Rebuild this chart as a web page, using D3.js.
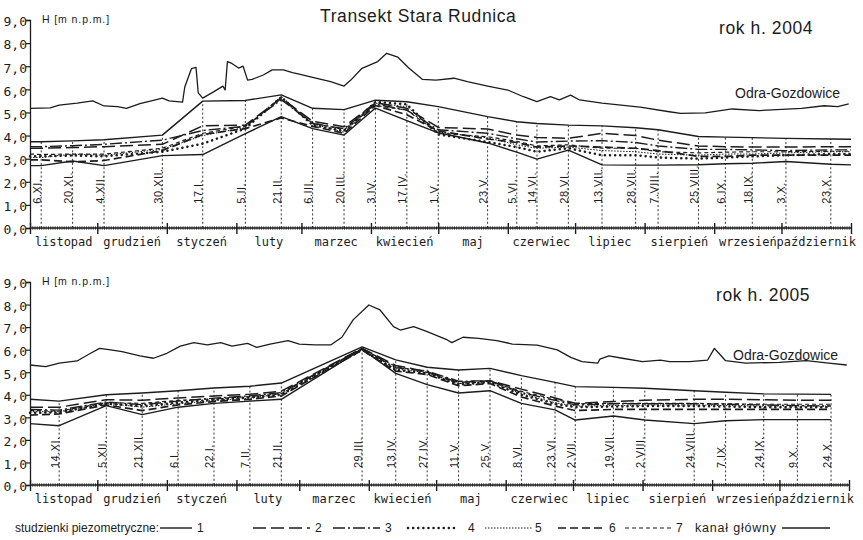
<!DOCTYPE html>
<html>
<head>
<meta charset="utf-8">
<script src="https://cdn.jsdelivr.net/npm/d3@7"></script>
<style>
  body { margin: 0; background: #fff; }
  svg { display: block; }
</style>
</head>
<body>
<svg id="chart" width="863" height="540"></svg>
<script>
// ================= DANE =================
// --- rok hydrologiczny 2004 ---
const seriesDates2004 = ["2003-11-01","2003-11-06","2003-11-20","2003-12-04","2003-12-30","2004-01-17","2004-02-05","2004-02-21","2004-03-06","2004-03-20","2004-04-03","2004-04-17","2004-05-01","2004-05-23","2004-06-05","2004-06-14","2004-06-28","2004-07-13","2004-07-28","2004-08-07","2004-08-25","2004-09-06","2004-09-18","2004-10-03","2004-10-23","2004-11-01"];
const measureDates2004 = ["2003-11-06","2003-11-20","2003-12-04","2003-12-30","2004-01-17","2004-02-05","2004-02-21","2004-03-06","2004-03-20","2004-04-03","2004-04-17","2004-05-01","2004-05-23","2004-06-05","2004-06-14","2004-06-28","2004-07-13","2004-07-28","2004-08-07","2004-08-25","2004-09-06","2004-09-18","2004-10-03","2004-10-23"];
const measureLabels2004 = ["6.XI.","20.XI.","4.XII.","30.XII.","17.I.","5.II.","21.II.","6.III.","20.III.","3.IV.","17.IV.","1.V.","23.V.","5.VI.","14.VI.","28.VI.","13.VII.","28.VII.","7.VIII.","25.VIII.","6.IX.","18.IX.","3.X.","23.X."];
const kanal2004 = [3.73,3.73,3.77,3.82,4.02,5.49,5.52,5.76,5.18,5.12,5.53,5.46,5.25,4.82,4.60,4.52,4.45,4.42,4.34,4.25,3.96,3.93,3.91,3.88,3.85,3.84];
const p1_2004 = [2.70,2.70,2.90,2.70,3.13,3.18,4.08,4.82,4.30,4.02,5.19,4.65,4.12,3.68,3.28,2.98,3.37,2.73,2.72,2.72,2.74,2.78,2.80,2.88,2.76,2.73];
const p2_2004 = [3.45,3.45,3.48,3.52,3.62,4.42,4.45,5.62,4.62,4.38,5.42,5.18,4.35,4.28,4.02,3.92,3.88,4.10,4.00,3.80,3.55,3.52,3.50,3.50,3.52,3.52];
const p3_2004 = [3.52,3.52,3.56,3.62,3.80,4.22,4.40,5.55,4.52,4.30,5.36,5.10,4.25,4.10,3.86,3.72,3.76,3.78,3.70,3.55,3.40,3.40,3.38,3.35,3.38,3.38];
const p4_2004 = [3.10,3.10,3.14,3.10,3.30,3.65,4.30,5.66,4.45,4.20,5.45,5.35,4.05,3.72,3.50,3.30,3.45,3.15,3.15,3.05,3.00,3.05,3.10,3.15,3.20,3.20];
const p5_2004 = [3.05,3.05,3.20,3.15,3.40,4.00,4.35,5.70,4.50,4.15,5.40,5.25,4.15,3.90,3.60,3.45,3.50,3.35,3.30,3.20,3.15,3.20,3.20,3.25,3.30,3.30];
const p6_2004 = [2.95,2.95,2.86,2.92,3.35,4.05,4.30,4.76,4.40,4.10,5.30,4.90,4.20,3.85,3.70,3.50,3.55,3.50,3.45,3.35,3.10,3.10,3.15,3.15,3.15,3.15];
const p7_2004 = [3.20,3.18,3.20,3.20,3.45,4.10,4.40,5.60,4.55,4.25,5.30,5.10,4.10,3.95,3.75,3.55,3.60,3.45,3.45,3.30,3.25,3.28,3.30,3.30,3.32,3.32];
const odraDates2004 = ["2003-11-01","2003-11-10","2003-11-14","2003-11-22","2003-11-29","2003-12-04","2003-12-10","2003-12-14","2003-12-20","2003-12-26","2003-12-30","2004-01-02","2004-01-08","2004-01-09","2004-01-12","2004-01-14","2004-01-15","2004-01-17","2004-01-22","2004-01-26","2004-01-27","2004-01-28","2004-01-30","2004-02-02","2004-02-04","2004-02-06","2004-02-08","2004-02-13","2004-02-17","2004-02-22","2004-02-26","2004-02-29","2004-03-06","2004-03-14","2004-03-20","2004-03-23","2004-03-28","2004-04-04","2004-04-08","2004-04-13","2004-04-18","2004-04-24","2004-04-30","2004-05-08","2004-05-14","2004-05-23","2004-06-01","2004-06-08","2004-06-14","2004-06-20","2004-06-24","2004-06-29","2004-07-03","2004-07-13","2004-07-30","2004-08-12","2004-08-17","2004-08-28","2004-09-09","2004-09-21","2004-10-10","2004-10-20","2004-10-26","2004-10-31"];
const odra2004 = [5.18,5.20,5.32,5.40,5.50,5.28,5.25,5.18,5.38,5.52,5.62,5.50,5.45,6.10,6.90,6.95,5.85,5.62,5.90,6.14,5.97,7.20,7.12,6.92,7.00,6.40,6.43,6.62,6.84,6.84,6.72,6.66,6.52,6.33,6.14,6.40,6.91,7.20,7.56,7.39,6.91,6.43,6.40,6.48,6.33,6.14,5.97,5.68,5.47,5.68,5.54,5.75,5.54,5.40,5.23,5.03,4.96,4.98,5.15,5.08,5.18,5.29,5.25,5.37];

// --- rok hydrologiczny 2005 ---
const seriesDates2005 = ["2004-11-01","2004-11-14","2004-12-05","2004-12-21","2005-01-06","2005-01-22","2005-02-07","2005-02-21","2005-03-29","2005-04-13","2005-04-27","2005-05-11","2005-05-25","2005-06-08","2005-06-23","2005-07-02","2005-07-19","2005-08-02","2005-08-24","2005-09-07","2005-09-24","2005-10-09","2005-10-24"];
const measureDates2005 = seriesDates2005.slice(1);
const measureLabels2005 = ["14.XI.","5.XII.","21.XII.","6.I.","22.I.","7.II.","21.II.","29.III.","13.IV.","27.IV.","11.V.","25.V.","8.VI.","23.VI.","2.VII.","19.VII.","2.VIII.","24.VIII.","7.IX.","24.IX.","9.X.","24.X."];
const kanal2005 = [3.80,3.72,4.00,4.08,4.18,4.30,4.38,4.52,6.12,5.55,5.22,5.10,5.17,4.85,4.55,4.36,4.33,4.29,4.18,4.11,4.04,4.03,4.02];
const p1_2005 = [2.72,2.63,3.52,3.12,3.45,3.62,3.72,3.80,6.02,4.95,4.45,4.08,4.18,3.62,3.33,2.88,3.06,2.88,2.72,2.85,2.90,2.90,2.90];
const p2_2005 = [3.45,3.45,3.78,3.76,3.86,3.95,4.02,4.16,6.06,5.30,5.02,4.55,4.62,4.25,3.86,3.62,3.70,3.76,3.80,3.80,3.78,3.76,3.76];
const p3_2005 = [3.35,3.32,3.68,3.56,3.72,3.85,3.95,4.10,6.05,5.20,5.05,4.60,4.62,4.10,3.75,3.55,3.60,3.60,3.60,3.58,3.55,3.52,3.50];
const p4_2005 = [3.20,3.22,3.60,3.50,3.65,3.78,3.88,4.00,6.00,5.10,4.95,4.45,4.55,4.00,3.60,3.45,3.48,3.50,3.50,3.48,3.45,3.45,3.45];
const p5_2005 = [3.25,3.25,3.62,3.45,3.60,3.75,3.85,4.05,6.02,5.15,4.98,4.50,4.58,4.05,3.65,3.50,3.52,3.55,3.55,3.52,3.50,3.50,3.50];
const p6_2005 = [3.10,3.15,3.55,3.30,3.55,3.70,3.80,3.95,5.98,5.05,4.90,4.40,4.50,3.90,3.50,3.30,3.35,3.35,3.35,3.35,3.35,3.35,3.35];
const p7_2005 = [3.30,3.28,3.65,3.62,3.75,3.82,3.92,4.05,6.05,5.25,5.00,4.50,4.60,4.15,3.80,3.60,3.62,3.62,3.62,3.60,3.58,3.58,3.58];
const odraDates2005 = ["2004-11-01","2004-11-08","2004-11-14","2004-11-22","2004-11-28","2004-12-02","2004-12-07","2004-12-12","2004-12-20","2004-12-26","2005-01-01","2005-01-07","2005-01-13","2005-01-19","2005-01-25","2005-01-30","2005-02-06","2005-02-10","2005-02-16","2005-02-24","2005-03-01","2005-03-08","2005-03-15","2005-03-20","2005-03-25","2005-04-01","2005-04-06","2005-04-12","2005-04-15","2005-04-21","2005-04-27","2005-05-06","2005-05-08","2005-05-13","2005-05-20","2005-05-28","2005-06-04","2005-06-15","2005-06-24","2005-06-30","2005-07-05","2005-07-12","2005-07-13","2005-07-17","2005-07-23","2005-08-01","2005-08-09","2005-08-13","2005-08-22","2005-08-30","2005-09-02","2005-09-04","2005-09-07","2005-09-16","2005-10-01","2005-10-13","2005-10-23","2005-10-31"];
const odra2005 = [5.32,5.25,5.40,5.50,5.84,6.06,5.99,5.91,5.72,5.62,5.84,6.16,6.31,6.21,6.31,6.16,6.28,6.10,6.25,6.40,6.25,6.21,6.21,6.55,7.32,7.98,7.76,7.02,6.87,7.02,6.80,6.43,6.31,6.55,6.50,6.40,6.25,6.20,5.99,5.66,5.47,5.40,5.58,5.72,5.62,5.47,5.54,5.47,5.47,5.54,6.06,5.84,5.51,5.40,5.44,5.51,5.40,5.32];

// --- opisy ---
const monthNames = ["listopad","grudzień","styczeń","luty","marzec","kwiecień","maj","czerwiec","lipiec","sierpień","wrzesień","październik"];
const yTicks = [0,1,2,3,4,5,6,7,8,9];
const legendKeys = ["1","2","3","4","5","6","7"];

// ================= STYLE LINII =================
const ink = "#1c1c1c";
const lineStyles = {
  kanal: { w: 1.4, dash: null,        cap: "butt" },
  p1:    { w: 1.4, dash: null,        cap: "butt" },
  p2:    { w: 1.5, dash: "13,5",      cap: "butt" },
  p3:    { w: 1.4, dash: "12,3,2,3",  cap: "butt" },
  p4:    { w: 2.5, dash: "0.1,5",     cap: "round" },
  p5:    { w: 1.0, dash: "1.5,1.5",   cap: "butt" },
  p6:    { w: 1.7, dash: "8,4",       cap: "butt" },
  p7:    { w: 1.2, dash: "4,3",       cap: "butt" }
};

const parse = d3.utcParse("%Y-%m-%d");
const svg = d3.select("#chart");
const fmtY = d => d3.format(".1f")(d).replace(".", ",");

function applyStyle(sel, st) {
  sel.attr("fill", "none").attr("stroke", ink)
     .attr("stroke-width", st.w)
     .attr("stroke-linecap", st.cap)
     .attr("stroke-linejoin", "round");
  if (st.dash) sel.attr("stroke-dasharray", st.dash);
  return sel;
}

function drawPanel(cfg) {
  const g = svg.append("g");
  const x = d3.scaleUtc().domain([parse(cfg.from), parse(cfg.to)]).range([30, cfg.xRight]);
  const y = d3.scaleLinear().domain([0, 9]).range([cfg.yZero, cfg.yNine]);
  const y0 = y(0);
  const sDates = cfg.seriesDates.map(parse);

  // pionowe linie kropkowane w terminach pomiarów
  cfg.measureDates.forEach((ds, i) => {
    const d = parse(ds);
    const k = cfg.seriesDates.indexOf(ds);
    const topVal = cfg.series.kanal[k];
    g.append("line")
      .attr("x1", x(d)).attr("x2", x(d))
      .attr("y1", y0).attr("y2", y(topVal))
      .attr("stroke", "#333").attr("stroke-width", 1)
      .attr("stroke-dasharray", "2,2.2");
    g.append("text")
      .attr("transform", `translate(${x(d) - 0.5},${y(cfg.labelBase)}) rotate(-90)`)
      .attr("font-family", "Liberation Sans, Arial, sans-serif")
      .attr("font-size", 11).attr("letter-spacing", 0.5)
      .attr("fill", ink)
      .text(cfg.measureLabels[i]);
  });

  // linie studzienek i kanału
  const line = d3.line().x(d => x(d.date)).y(d => y(d.v));
  ["p7","p6","p5","p4","p3","p2","p1","kanal"].forEach(key => {
    const pts = cfg.series[key].map((v, i) => ({ date: sDates[i], v }));
    applyStyle(g.append("path").datum(pts).attr("d", line), lineStyles[key]);
  });

  // stan wody w Odrze
  const odraPts = cfg.odraDates.map((ds, i) => ({ date: parse(ds), v: cfg.odra[i] }));
  g.append("path").datum(odraPts)
    .attr("d", line)
    .attr("fill", "none").attr("stroke", ink).attr("stroke-width", 1.3)
    .attr("stroke-linejoin", "round");

  // oś pozioma: gęste podziałki dzienne i długie kreski miesięcy
  const dayAxis = d3.axisBottom(x).ticks(d3.utcDay.every(1)).tickSize(3.5).tickFormat("");
  const ga = g.append("g").attr("transform", `translate(0,${y0 - 1.75})`).call(dayAxis);
  ga.select(".domain").remove();
  ga.selectAll(".tick line").attr("stroke", ink).attr("stroke-width", 0.8);
  const monthAxis = d3.axisBottom(x).ticks(d3.utcMonth.every(1)).tickSize(11).tickFormat("");
  const gm = g.append("g").attr("transform", `translate(0,${y0 - 5})`).call(monthAxis);
  gm.select(".domain").remove();
  gm.selectAll(".tick line").attr("stroke", ink).attr("stroke-width", 1.4);
  g.append("line").attr("x1", x.range()[0]).attr("x2", x.range()[1])
    .attr("y1", y0).attr("y2", y0).attr("stroke", ink).attr("stroke-width", 1.6);

  // nazwy miesięcy
  const months = x.ticks(d3.utcMonth.every(1));
  monthNames.forEach((name, i) => {
    const cx = (x(months[i]) + x(months[i + 1])) / 2;
    g.append("text")
      .attr("x", cx).attr("y", y0 + 17.5)
      .attr("text-anchor", "middle")
      .attr("font-family", "DejaVu Sans Mono, monospace")
      .attr("font-size", 12).attr("fill", ink)
      .text(name);
  });

  // oś pionowa
  const yAxis = d3.axisLeft(y).tickValues(yTicks).tickSize(4).tickFormat(fmtY);
  const gy = g.append("g").attr("transform", "translate(30,0)").call(yAxis);
  gy.select(".domain").attr("stroke", ink).attr("stroke-width", 1.3);
  gy.selectAll(".tick line").attr("stroke", ink).attr("stroke-width", 1.2);
  gy.selectAll(".tick text")
    .attr("font-family", "DejaVu Sans Mono, monospace")
    .attr("font-size", 13).attr("fill", ink)
    .attr("x", -3).attr("dy", "0.45em");

  g.append("text")
    .attr("x", 42).attr("y", y(9) + 2.5)
    .attr("font-family", "Liberation Sans, Arial, sans-serif")
    .attr("font-size", 10.5).attr("letter-spacing", 0.9).attr("fill", ink)
    .text("H [m n.p.m.]");

  g.append("text")
    .attr("x", cfg.yearX).attr("y", cfg.yearY)
    .attr("font-family", "Liberation Sans, Arial, sans-serif")
    .attr("font-size", 17.5).attr("letter-spacing", 0.6).attr("fill", ink)
    .text(cfg.yearLabel);

  g.append("text")
    .attr("x", cfg.odraX).attr("y", cfg.odraY)
    .attr("font-family", "Liberation Sans, Arial, sans-serif")
    .attr("font-size", 14).attr("fill", ink)
    .text("Odra-Gozdowice");
}

svg.append("text")
  .attr("x", 320).attr("y", 21.5)
  .attr("font-family", "Liberation Sans, Arial, sans-serif")
  .attr("font-size", 17.5).attr("letter-spacing", 0.6).attr("fill", ink)
  .text("Transekt Stara Rudnica");

drawPanel({
  from: "2003-11-01", to: "2004-11-01", xRight: 851, yZero: 228, yNine: 20,
  seriesDates: seriesDates2004, measureDates: measureDates2004, measureLabels: measureLabels2004,
  series: { kanal: kanal2004, p1: p1_2004, p2: p2_2004, p3: p3_2004, p4: p4_2004, p5: p5_2004, p6: p6_2004, p7: p7_2004 },
  odraDates: odraDates2004, odra: odra2004,
  labelBase: 1.05, yearLabel: "rok h. 2004", yearX: 719, yearY: 33.5, odraX: 735, odraY: 98
});

drawPanel({
  from: "2004-11-01", to: "2005-11-01", xRight: 849, yZero: 485, yNine: 282,
  seriesDates: seriesDates2005, measureDates: measureDates2005, measureLabels: measureLabels2005,
  series: { kanal: kanal2005, p1: p1_2005, p2: p2_2005, p3: p3_2005, p4: p4_2005, p5: p5_2005, p6: p6_2005, p7: p7_2005 },
  odraDates: odraDates2005, odra: odra2005,
  labelBase: 0.75, yearLabel: "rok h. 2005", yearX: 716, yearY: 301, odraX: 733, odraY: 360
});

// legenda
const legY = 528;
const leg = svg.append("g");
const legFont = "Liberation Sans, Arial, sans-serif";
leg.append("text").attr("x", 15).attr("y", legY + 4)
  .attr("font-family", legFont).attr("font-size", 12).attr("fill", ink)
  .text("studzienki piezometryczne:");
const legKeyStyle = ["p1","p2","p3","p4","p5","p6","p7"];
const legSpans = [[160,192,197],[253,310,315],[333,380,385],[408,457,468],[485,532,535],[558,603,609],[625,672,676]];
legendKeys.forEach((k, i) => {
  const [a, b, t] = legSpans[i];
  applyStyle(leg.append("line").attr("x1", a).attr("x2", b).attr("y1", legY).attr("y2", legY),
             lineStyles[legKeyStyle[i]]);
  leg.append("text").attr("x", t).attr("y", legY + 4)
    .attr("font-family", legFont).attr("font-size", 12).attr("fill", ink).text(k);
});
leg.append("text").attr("x", 695).attr("y", legY + 4)
  .attr("font-family", legFont).attr("font-size", 12.5).attr("letter-spacing", 0.8).attr("fill", ink)
  .text("kanał główny");
applyStyle(leg.append("line").attr("x1", 782).attr("x2", 830).attr("y1", legY).attr("y2", legY), lineStyles.kanal);
</script>
</body>
</html>
